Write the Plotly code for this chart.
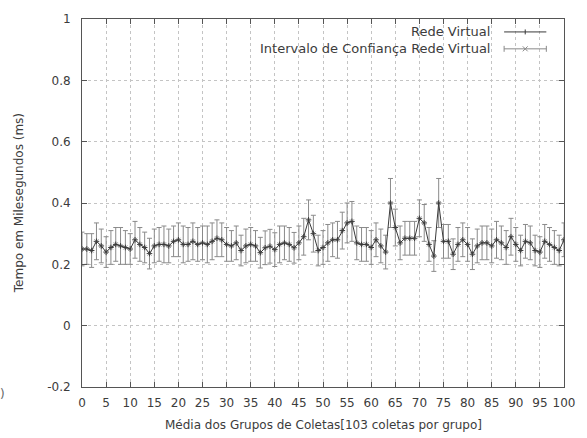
import plotly.graph_objects as go

# ---- data ----
grupos = list(range(0, 101))
tempo_medio = [
    0.250, 0.250, 0.245, 0.275, 0.260, 0.240, 0.255, 0.265, 0.260, 0.255,
    0.250, 0.280, 0.265, 0.255, 0.235, 0.260, 0.265, 0.265, 0.260, 0.275,
    0.280, 0.265, 0.265, 0.275, 0.265, 0.270, 0.265, 0.275, 0.285, 0.280,
    0.265, 0.260, 0.270, 0.245, 0.260, 0.265, 0.260, 0.238, 0.254, 0.259,
    0.248, 0.265, 0.270, 0.265, 0.254, 0.270, 0.290, 0.345, 0.300, 0.245,
    0.255, 0.270, 0.280, 0.280, 0.310, 0.335, 0.340, 0.270, 0.265, 0.265,
    0.255, 0.280, 0.260, 0.240, 0.400, 0.320, 0.270, 0.285, 0.285, 0.285,
    0.350, 0.335, 0.265, 0.227, 0.400, 0.275, 0.275, 0.233, 0.265, 0.280,
    0.265, 0.233, 0.260, 0.270, 0.270, 0.260, 0.280, 0.270, 0.255, 0.290,
    0.265, 0.245, 0.275, 0.270, 0.245, 0.240, 0.275, 0.265, 0.255, 0.245,
    0.280,
]
intervalo = [
    0.055, 0.050, 0.055, 0.060, 0.055, 0.050, 0.055, 0.055, 0.060, 0.055,
    0.050, 0.060, 0.055, 0.050, 0.050, 0.055, 0.055, 0.060, 0.055, 0.050,
    0.055, 0.060, 0.055, 0.060, 0.055, 0.055, 0.060, 0.060, 0.060, 0.055,
    0.055, 0.050, 0.055, 0.050, 0.055, 0.055, 0.050, 0.050, 0.055, 0.055,
    0.055, 0.060, 0.055, 0.055, 0.050, 0.055, 0.060, 0.065, 0.060, 0.050,
    0.055, 0.060, 0.055, 0.060, 0.060, 0.065, 0.065, 0.055, 0.055, 0.055,
    0.055, 0.055, 0.055, 0.055, 0.080, 0.060, 0.055, 0.055, 0.055, 0.055,
    0.060, 0.060, 0.055, 0.050, 0.080, 0.055, 0.055, 0.050, 0.055, 0.055,
    0.055, 0.050, 0.055, 0.055, 0.055, 0.055, 0.060, 0.055, 0.055, 0.060,
    0.055, 0.050, 0.055, 0.055, 0.050, 0.050, 0.055, 0.055, 0.055, 0.050,
    0.055,
]
y_ticks = [-0.2, 0, 0.2, 0.4, 0.6, 0.8, 1]
y_tick_labels = ["-0.2", "0", "0.2", "0.4", "0.6", "0.8", "1"]
x_ticks = list(range(0, 101, 5))
x_tick_labels = [str(v) for v in x_ticks]
nome_linha = "Rede Virtual"
nome_intervalo = "Intervalo de Confiança Rede Virtual"

FONT = "DejaVu Sans"
TXT_C = "#3c3c3c"
LINE_C = "#3a3a3a"
ERR_C = "#8a8a8a"
AXIS_C = "#555555"

fig = go.Figure()

# error bars (confidence interval)
fig.add_trace(go.Scatter(
    x=grupos, y=tempo_medio, mode="markers",
    marker=dict(symbol="x-thin", size=4, line=dict(color=ERR_C, width=1), color=ERR_C),
    error_y=dict(type="data", array=intervalo, visible=True,
                 color=ERR_C, thickness=1, width=2.5),
    showlegend=False, hoverinfo="skip",
))
# mean line
fig.add_trace(go.Scatter(
    x=grupos, y=tempo_medio, mode="lines+markers",
    line=dict(color=LINE_C, width=1),
    marker=dict(symbol="cross-thin", size=4, line=dict(color=LINE_C, width=1)),
    showlegend=False,
))

# ---- gnuplot-style key (text right-aligned, sample on the right) ----
L, R, T, B = 82, 573, 17, 387
px_w, px_h = float(R - L), float(B - T)
def px2x(p):
    return (p - L) / px_w
def py2y(p):
    return (B - p) / px_h

shapes = []
ann = []
rows = [(30, nome_linha, "line"), (47, nome_intervalo, "err")]
x0s, x1s, xm = px2x(512), px2x(555), px2x(533.5)
for py, txt, kind in rows:
    yy = py2y(py)
    ann.append(dict(x=px2x(500), y=yy, xref="paper", yref="paper", text=txt,
                    showarrow=False, xanchor="right", yanchor="middle",
                    font=dict(family=FONT, size=13, color=TXT_C)))
    col = LINE_C if kind == "line" else ERR_C
    shapes.append(dict(type="line", xref="paper", yref="paper", x0=x0s, x1=x1s,
                       y0=yy, y1=yy, line=dict(color=col, width=1)))
    if kind == "line":
        shapes.append(dict(type="line", xref="paper", yref="paper", x0=xm, x1=xm,
                           y0=yy - 2.5 / px_h, y1=yy + 2.5 / px_h, line=dict(color=col, width=1)))
    else:
        for xe in (x0s, x1s):
            shapes.append(dict(type="line", xref="paper", yref="paper", x0=xe, x1=xe,
                               y0=yy - 3 / px_h, y1=yy + 3 / px_h, line=dict(color=col, width=1)))
        d = 2.5
        shapes.append(dict(type="line", xref="paper", yref="paper",
                           x0=xm - d / px_w, x1=xm + d / px_w,
                           y0=yy - d / px_h, y1=yy + d / px_h, line=dict(color=col, width=1)))
        shapes.append(dict(type="line", xref="paper", yref="paper",
                           x0=xm - d / px_w, x1=xm + d / px_w,
                           y0=yy + d / px_h, y1=yy - d / px_h, line=dict(color=col, width=1)))

# axis titles
ann.append(dict(x=0.5, y=py2y(425), xref="paper", yref="paper",
                text="Média dos Grupos de Coletas[103 coletas por grupo]",
                showarrow=False, xanchor="center", yanchor="middle",
                font=dict(family=FONT, size=12, color=TXT_C)))
ann.append(dict(x=px2x(18), y=py2y(202), xref="paper", yref="paper",
                text="Tempo em Milesegundos (ms)", textangle=-90,
                showarrow=False, xanchor="center", yanchor="middle",
                font=dict(family=FONT, size=12, color=TXT_C)))
# stray glyph at left edge of the original image
ann.append(dict(x=px2x(1), y=py2y(394), xref="paper", yref="paper", text=")",
                showarrow=False, xanchor="center", yanchor="middle",
                font=dict(family=FONT, size=12, color="#666666")))

fig.update_layout(
    width=587, height=438, autosize=False,
    margin=dict(l=L, r=587 - R, t=T, b=438 - B, pad=0),
    paper_bgcolor="white", plot_bgcolor="white",
    font=dict(family=FONT, size=12, color=TXT_C),
    shapes=shapes, annotations=ann,
    hovermode=False,
    xaxis=dict(range=[0, 100], tickvals=x_ticks, ticktext=x_tick_labels,
               ticks="inside", ticklen=5, tickcolor=AXIS_C, tickwidth=1,
               showline=True, linecolor=AXIS_C, linewidth=1, mirror="ticks",
               showgrid=True, gridcolor="#c4c4c4", griddash="dot", gridwidth=1,
               zeroline=False, tickfont=dict(family=FONT, size=12, color=TXT_C),
               ticklabelstandoff=5),
    yaxis=dict(range=[-0.2, 1], tickvals=y_ticks, ticktext=y_tick_labels,
               ticks="inside", ticklen=5, tickcolor=AXIS_C, tickwidth=1,
               showline=True, linecolor=AXIS_C, linewidth=1, mirror="ticks",
               showgrid=True, gridcolor="#c4c4c4", griddash="dot", gridwidth=1,
               zeroline=False, tickfont=dict(family=FONT, size=12, color=TXT_C),
               ticklabelstandoff=8),
)

fig.write_html(
    "out.html",
    config={"displayModeBar": False, "staticPlot": True},
    post_script="document.body.style.margin='0px';"
                "document.documentElement.style.overflow='hidden';",
)
